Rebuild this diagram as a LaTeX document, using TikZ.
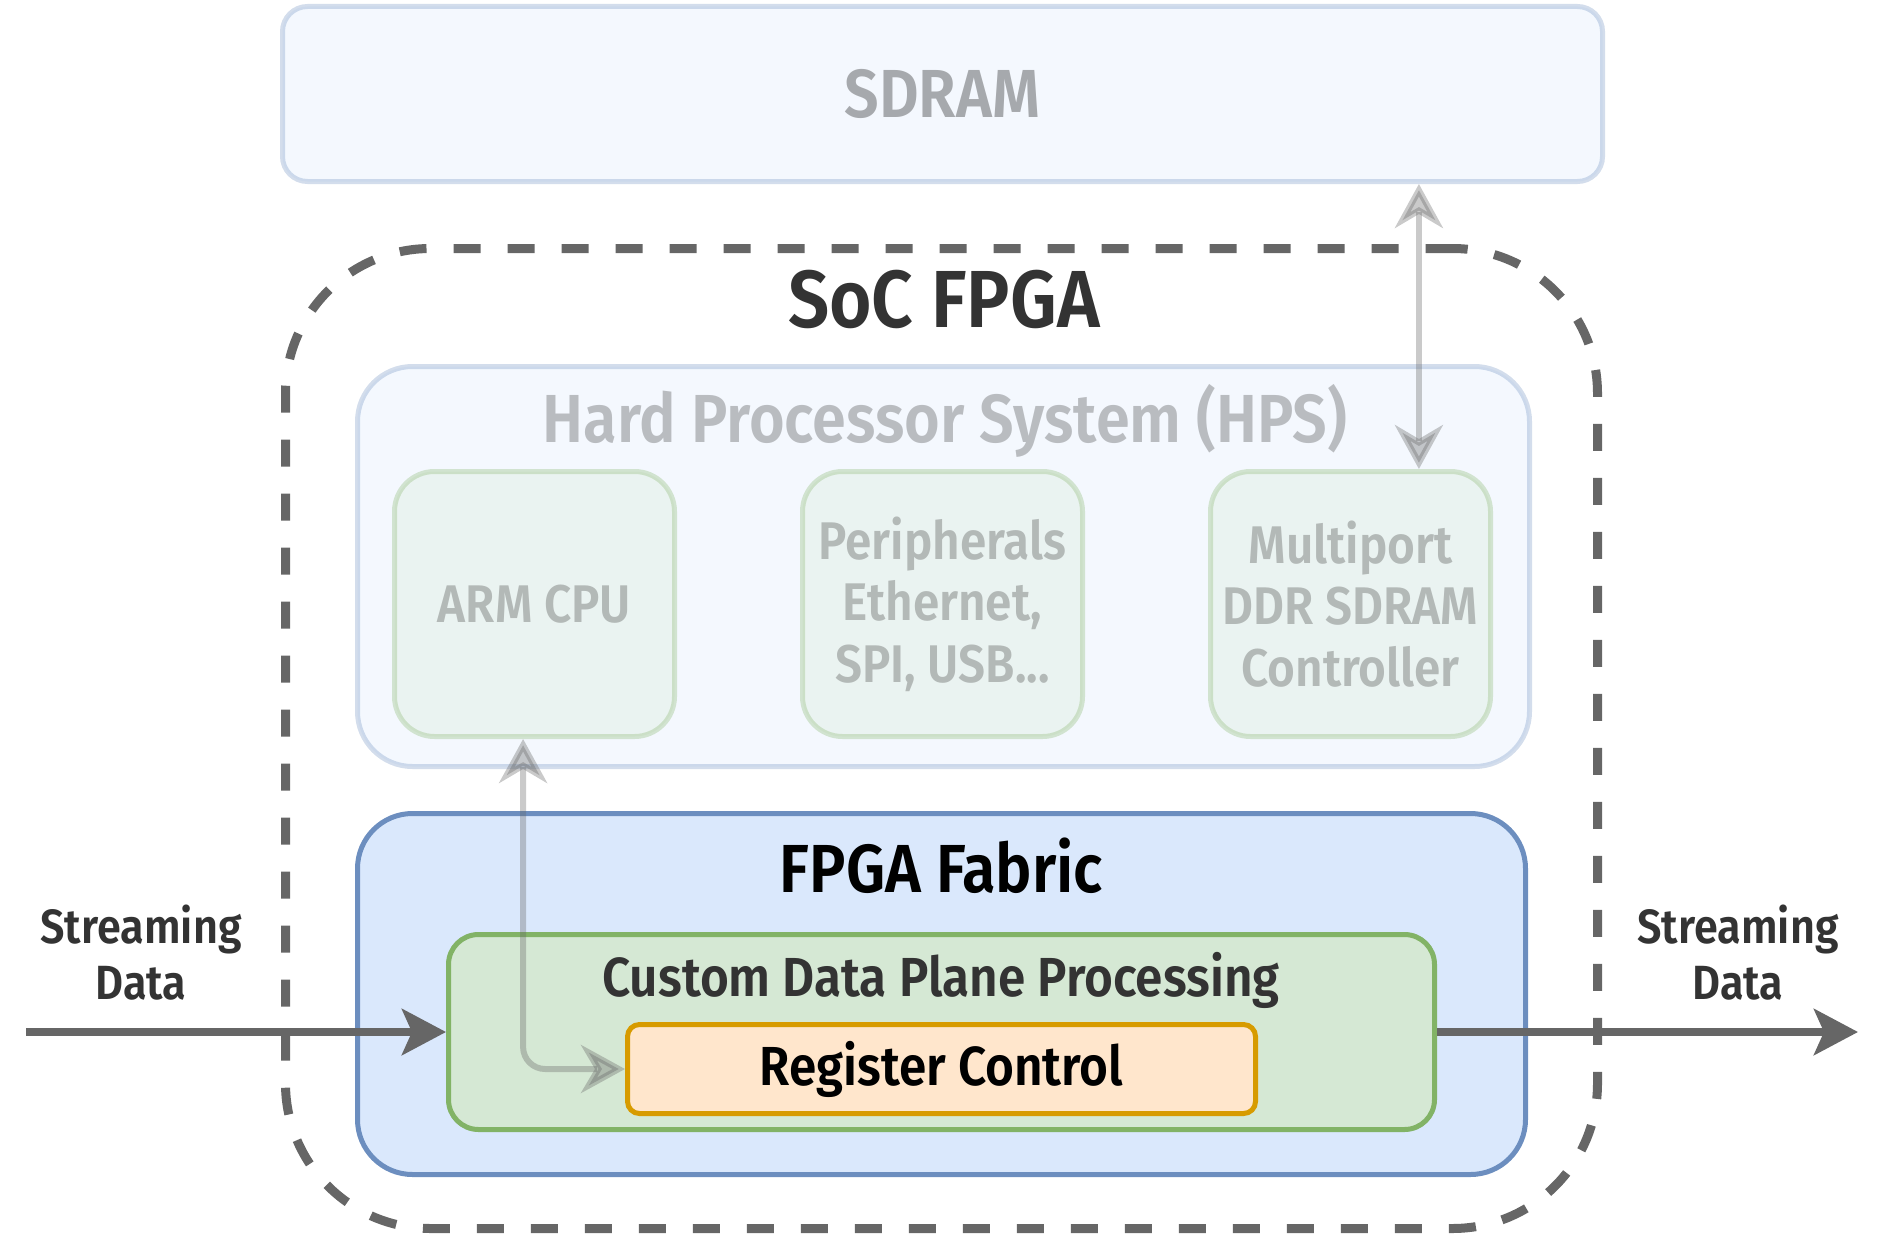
\documentclass[tikz,border=0pt]{standalone}
\usepackage{fontspec}
\setmainfont{Fira Sans SemiBold}[FakeStretch=0.9]
\usetikzlibrary{calc,positioning,arrows.meta}

\definecolor{fabricfill}{HTML}{DAE8FC}
\definecolor{fabricline}{HTML}{6C8EBF}
\definecolor{logicfill}{HTML}{D5E8D4}
\definecolor{logicline}{HTML}{82B366}
\definecolor{regfill}{HTML}{FFE6CC}
\definecolor{regline}{HTML}{D79B00}
\definecolor{labeltext}{HTML}{333333}
\definecolor{wire}{HTML}{666666}

\newcommand{\fsize}[2]{\fontsize{#1pt}{#2pt}\selectfont}

\begin{document}
\begin{tikzpicture}[x=1pt,y=-1pt,
	box/.style={rectangle,draw,line width=5pt,inner sep=0pt,align=center},
	hpsbox/.style={box,fill=fabricfill,draw=fabricline,text=labeltext,opacity=0.3},
	unitbox/.style={box,fill=logicfill,draw=logicline,text=labeltext,opacity=0.3,
		minimum width=280pt,minimum height=265pt,rounded corners=40pt,font=\fsize{53}{61.5}},
	title/.style={anchor=base,inner sep=0pt},
	flow/.style={draw=wire,line width=8pt,-{Stealth[length=44pt,width=46pt,inset=10pt]}},
	ctrl/.style={draw=wire,line width=6pt,opacity=0.35,
		{Stealth[length=44pt,width=48pt,inset=14pt]}-{Stealth[length=44pt,width=48pt,inset=14pt]}}
	]
	
	\useasboundingbox (0,0) rectangle (1884,1239);
	
	\node [hpsbox,text opacity=0.4,minimum width=1320pt,minimum height=175pt,
		rounded corners=25pt,font=\fsize{68}{78}] (sdram) at (942.5,94) {SDRAM};
	
	%%%%%%%%%%%%%%%%%%%%%%%%%%%%%%%%%%%%%%%%%%%%%%%%%%%%%%
	
	\node [draw=wire,line width=9pt,dash pattern=on 27pt off 27pt,rounded corners=145pt,
		minimum width=1312pt,minimum height=980pt] (soc) at (941.5,738.5) {};
	\node [title,text=labeltext,font=\fsize{81}{92}] (soc-title) at (944,327) {SoC FPGA};
	
	%%%%%%%%%%%%%%%%%%%%%%%%%%%%%%%%%%%%%%%%%%%%%%%%%%%%%%
	
	\node [hpsbox,minimum width=1172pt,minimum height=400pt,rounded corners=55pt] (hps) at (943.5,566.5) {};
	\node [title,text=labeltext,opacity=0.3,font=\fsize{68}{78}] (hps-title) at (945,442) {Hard Processor System (HPS)};
	
	\node [unitbox] (cpu) at (534.5,604) {ARM CPU};
	\node [unitbox] (periph) at (942.5,604) {Peripherals\\Ethernet,\\SPI, USB...};
	\node [unitbox] (mport) at (1350.5,604) {Multiport\\DDR SDRAM\\Controller};
	
	%%%%%%%%%%%%%%%%%%%%%%%%%%%%%%%%%%%%%%%%%%%%%%%%%%%%%%
	
	\node [box,fill=fabricfill,draw=fabricline,minimum width=1168pt,minimum height=361pt,
		rounded corners=55pt] (fabric) at (941.5,994) {};
	\node [title,font=\fsize{68}{78}] (fabric-title) at (941.5,892) {FPGA Fabric};
	
	\node [box,fill=logicfill,draw=logicline,minimum width=986pt,minimum height=195pt,
		rounded corners=30pt] (custom) at (941.5,1032) {};
	\node [title,text=labeltext,font=\fsize{55}{64}] (custom-title) at (941,996) {Custom Data Plane Processing};
	
	\node [box,fill=regfill,draw=regline,minimum width=628pt,minimum height=89pt,
		rounded corners=12pt,font=\fsize{55}{64}] (reg) at (941.5,1069) {Register Control};
	
	%%%%%%%%%%%%%%%%%%%%%%%%%%%%%%%%%%%%%%%%%%%%%%%%%%%%%%
	
	\coordinate (in-start) at (26,1032);
	\coordinate (out-end) at (1858,1032);
	\draw [flow] (in-start) -- (custom.west);
	\draw [flow] (custom.east) -- (out-end);
	
	\node [align=center,inner sep=0pt,text=labeltext,font=\fsize{48}{56}] (in-text) at (141,953) {Streaming\\Data};
	\node [align=center,inner sep=0pt,text=labeltext,font=\fsize{48}{56}] (out-text) at (1738,953) {Streaming\\Data};
	
	%%%%%%%%%%%%%%%%%%%%%%%%%%%%%%%%%%%%%%%%%%%%%%%%%%%%%%
	
	\coordinate (mport-port) at ($(mport.north west)!0.74!(mport.north east)$);
	\draw [ctrl] (sdram.south -| mport-port) -- (mport-port);
	
	\coordinate (cpu-port) at ($(cpu.south west)!0.46!(cpu.south east)$);
	\draw [ctrl,rounded corners=22pt] (cpu-port) |- (reg.west);
	
\end{tikzpicture}
\end{document}
